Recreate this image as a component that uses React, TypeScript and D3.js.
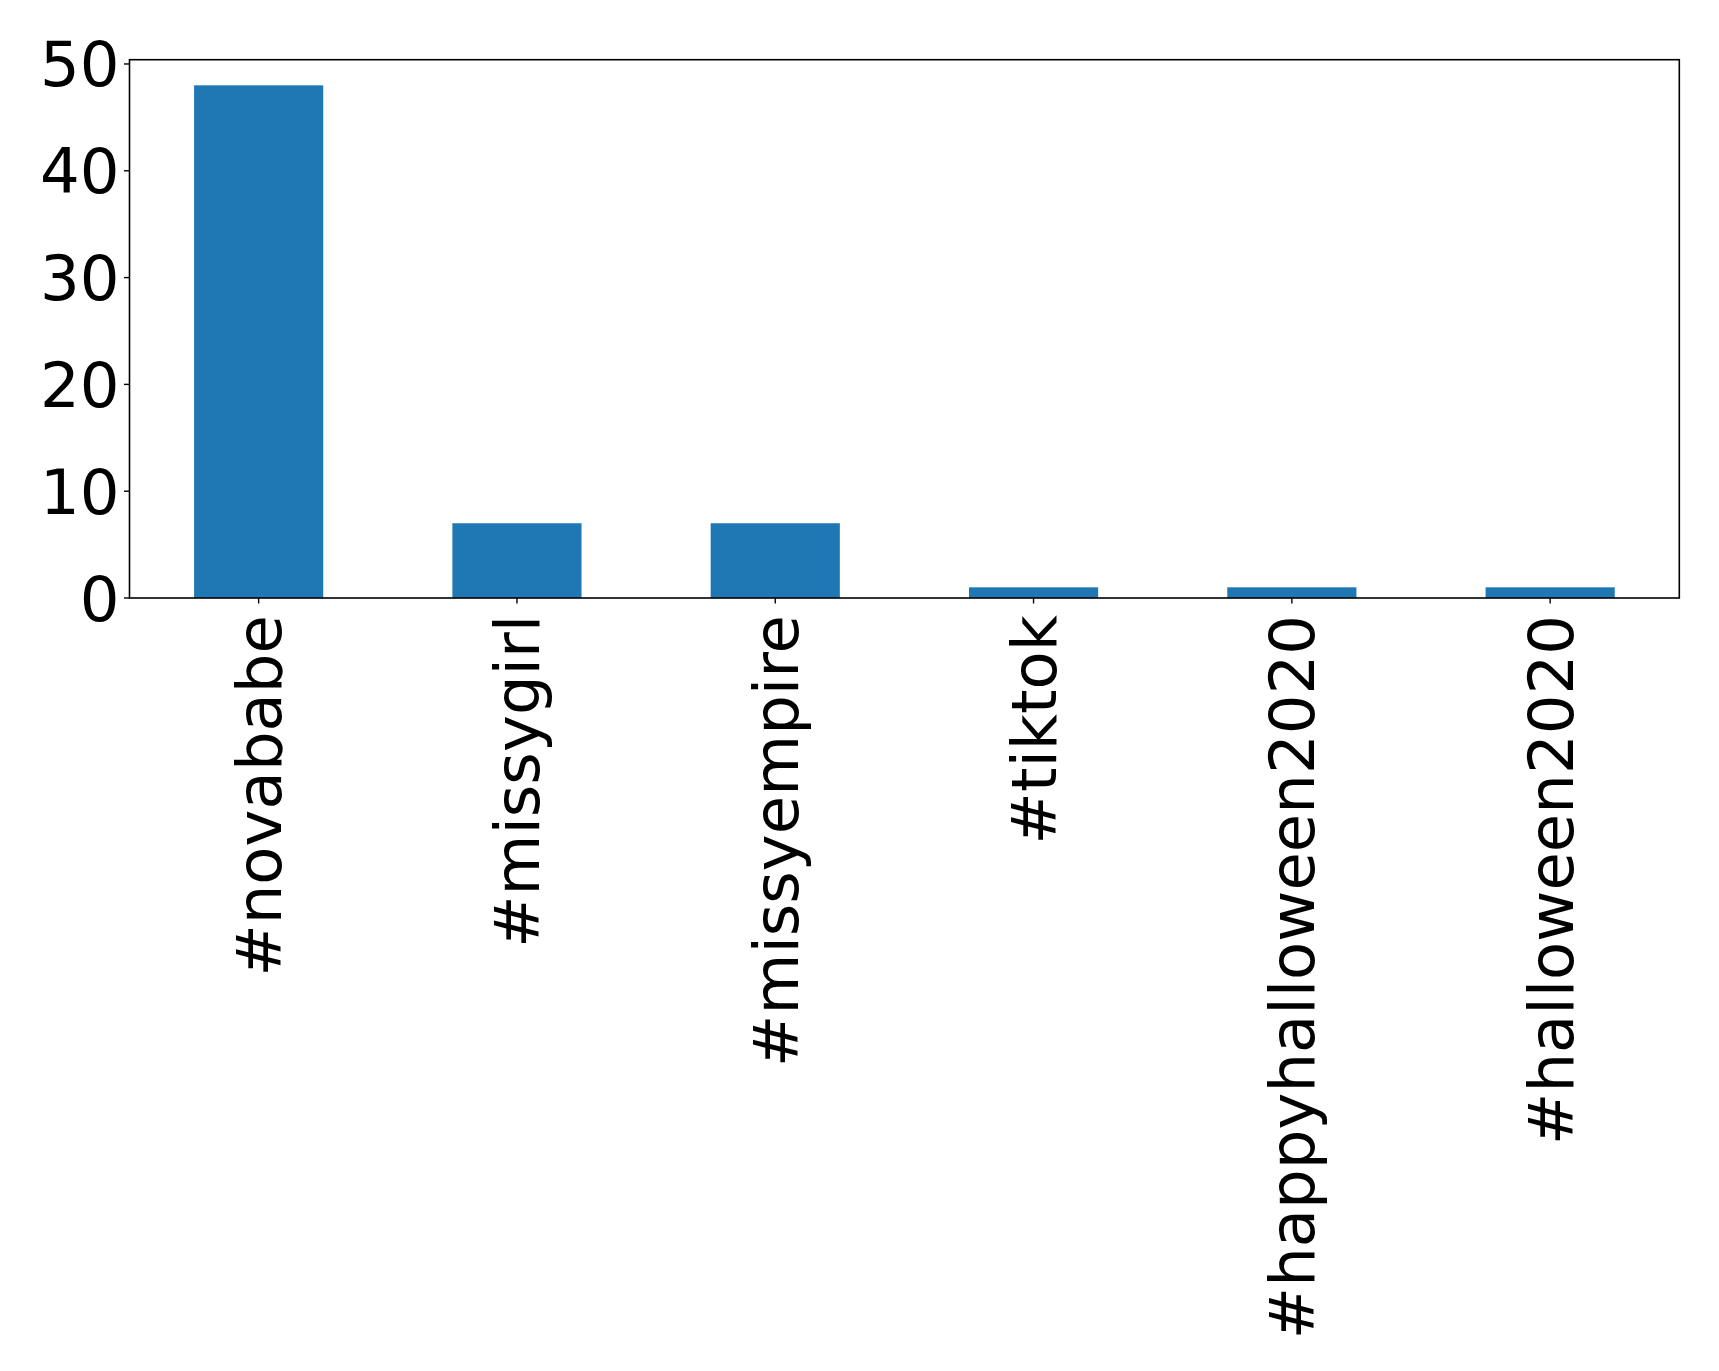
import React from "react";
import * as d3 from "d3";

const categories = ["#novababe", "#missygirl", "#missyempire", "#tiktok", "#happyhalloween2020", "#halloween2020"];
const counts = [48, 7, 7, 1, 1, 1];
const yTicks = [0, 10, 20, 30, 40, 50];

const W = 1719;
const H = 1371;
const left = 129.5;
const right = 1679.3;
const top = 59.7;
const bottom = 598;
const fontSize = 62.5;

export default function App() {
  const x = d3.scaleLinear().domain([-0.5, categories.length - 0.5]).range([left, right]);
  const y = d3.scaleLinear().domain([0, d3.max(counts)! * 1.05]).range([bottom, top]);
  const bw = x(0.25) - x(0);
  return (
    <svg width={W} height={H} style={{ position: "absolute", left: 0, top: 0, background: "#fff" }}
      fontFamily="'DejaVu Sans', sans-serif">
      <rect x={0} y={0} width={W} height={H} fill="#fff" />
      {counts.map((v, i) => (
        <rect key={i} x={x(i) - bw} y={y(v)} width={bw * 2} height={y(0) - y(v)} fill="#1f77b4" />
      ))}
      <rect x={left} y={top} width={right - left} height={bottom - top} fill="none" stroke="#000" strokeWidth={1.6} />
      {yTicks.map((t) => (
        <g key={t}>
          <line x1={left - 5.5} x2={left} y1={y(t)} y2={y(t)} stroke="#000" strokeWidth={1.4} />
          <text x={left - 10} y={y(t)} dy="0.36em" textAnchor="end" fontSize={fontSize} fill="#000">{t}</text>
        </g>
      ))}
      {categories.map((c, i) => (
        <g key={c}>
          <line x1={x(i)} x2={x(i)} y1={bottom} y2={bottom + 5.5} stroke="#000" strokeWidth={1.4} />
          <text transform={`translate(${x(i)},${bottom + 17}) rotate(-90)`} textAnchor="end" dy="0.36em"
            fontSize={fontSize} fill="#000">{c}</text>
        </g>
      ))}
    </svg>
  );
}
